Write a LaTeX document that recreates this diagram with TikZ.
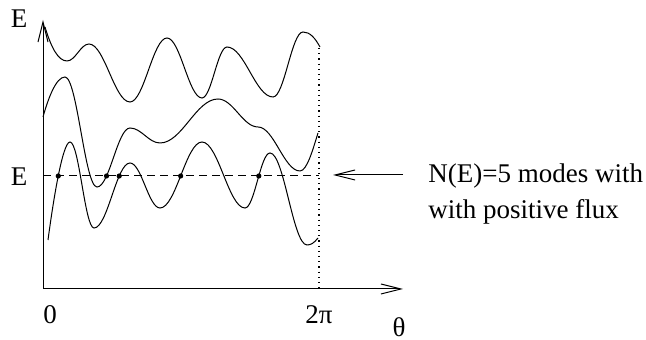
\documentclass[tikz,border=0pt]{standalone}
\usepackage{fontspec}
\setmainfont{Liberation Serif}
\usetikzlibrary{positioning, arrows.meta, intersections}

\begin{document}
\begin{tikzpicture}[
  x=0.5pt, y=0.5pt,
  axis/.style={-{Straight Barb[length=10pt,width=5pt]}, line width=0.5pt},
  wave/.style={line width=0.5pt},
  lvl/.style={dash pattern=on 4pt off 2.5pt, line width=0.5pt},
  period/.style={dotted, line width=0.6pt},
  hit/.style={circle, fill, inner sep=0pt, minimum size=2.6pt},
  lbl/.style={inner sep=0pt, font=\fontsize{13.5}{18}\selectfont},
  note/.style={lbl, align=left},
  arr/.style={-{Straight Barb[length=10pt,width=5pt]}, line width=0.5pt}
]
  \useasboundingbox (0,0) rectangle (646,340);

  % axes
  \coordinate (O)    at (43,51);
  \coordinate (ytop) at (43,320);
  \coordinate (xend) at (403,51);
  \draw[axis] (O) -- (ytop);
  \draw[axis] (O) -- (xend);

  % period and energy level
  \coordinate (perB) at (319,51);
  \coordinate (perT) at (319,292);
  \coordinate (lvlL) at (43,164);
  \coordinate (lvlR) at (319,164);
  \draw[period] (perT) -- (perB);
  \draw[lvl, name path=lvl] (lvlL) -- (lvlR);

  % bands
  \draw[wave] (45,313) .. controls +(6,-20) and +(-9,0) .. (67,279)
    \foreach \x/\y [remember=\x as \px (initially 67),
                    evaluate=\x as \hx using {0.38*(\x-\px)}]
      in {89/296, 130/238, 167/302, 202/242, 227/293, 273/243, 303/308}
      { .. controls +(\hx,0) and +(-\hx,0) .. (\x,\y) }
    .. controls +(7,0) and +(-5,9) .. (320,293);

  \draw[wave, name path=c2] (43,223) .. controls +(5,18) and +(-9,0) .. (65,263)
    \foreach \x/\y [remember=\x as \px (initially 65),
                    evaluate=\x as \hx using {0.38*(\x-\px)}]
      in {97/153, 130/212, 160/197, 218/241, 258/213, 300/169}
      { .. controls +(\hx,0) and +(-\hx,0) .. (\x,\y) }
    .. controls +(7,0) and +(-5,-16) .. (318,207);

  \draw[wave, name path=c3] (48,100) .. controls +(4,30) and +(-8,0) .. (70,198)
    \foreach \x/\y [remember=\x as \px (initially 70),
                    evaluate=\x as \hx using {0.38*(\x-\px)}]
      in {94/112, 130/177, 160/132, 202/198, 245/132, 270/187, 307/95}
      { .. controls +(\hx,0) and +(-\hx,0) .. (\x,\y) }
    .. controls +(4,0) and +(-4,-5) .. (318,102);

  % modes with positive flux
  \path[name intersections={of=c3 and lvl, sort by=lvl, name=m3}];
  \path[name intersections={of=c2 and lvl, sort by=lvl, name=m2}];
  \foreach \k in {1,3,5,7}
    \node[hit] at (m3-\k) {};
  \node[hit] at (m2-2) {};

  % labels
  \node[lbl] (Etop)  at (19,321) {E};
  \node[lbl] (Elvl)  at (19,163) {E};
  \node[lbl] (zero)  at (50,25)  {0};
  \node[lbl] (twopi) at (319,25) {2π};
  \node[lbl] (theta) at (399,13) {θ};

  \coordinate (tail) at (403,165);
  \coordinate (tip)  at (333,165);
  \draw[arr] (tail) -- (tip);
  \node[note, anchor=north west] (count) at ([xshift=12.5pt, yshift=6pt]tail)
    {N(E)=5 modes with\\with positive flux};
\end{tikzpicture}
\end{document}
